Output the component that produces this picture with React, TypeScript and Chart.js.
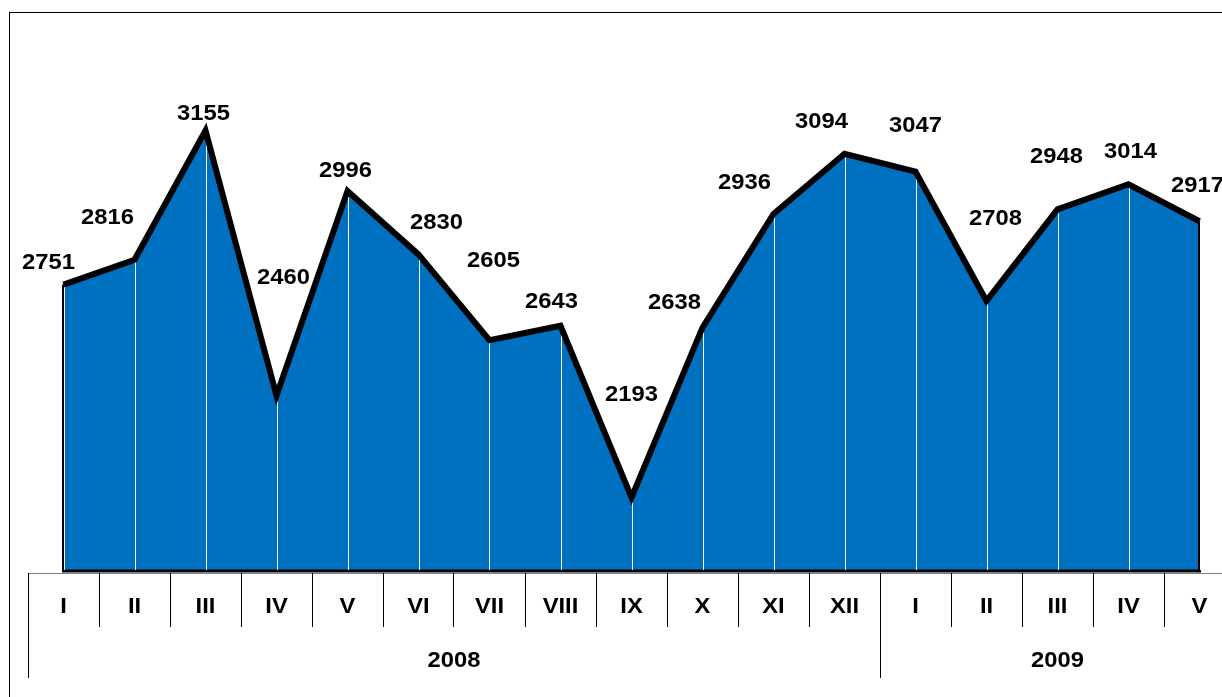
import React, { useEffect, useRef } from "react";
import { Chart, registerables } from "chart.js";

Chart.register(...registerables);

const months = ["I", "II", "III", "IV", "V", "VI", "VII", "VIII", "IX", "X", "XI", "XII", "I", "II", "III", "IV", "V"];
const values = [2751, 2816, 3155, 2460, 2996, 2830, 2605, 2643, 2193, 2638, 2936, 3094, 3047, 2708, 2948, 3014, 2917];
const years = ["2008", "2009"];
const yearSpans = [12, 5];
// label placement offsets (dx, dy) relative to each point, px
const labelOffsets: [number, number][] = [
  [-15, -22], [-27, -42], [-2, -17], [7, -118], [-2, -20], [18, -31], [4, -79], [-9, -24], [0, -102],
  [-28, -25], [-29, -31], [-23, -32], [0, -46], [9, -82], [-1, -52], [2, -32], [-2, -35],
];

const FONT = "'Liberation Sans', Arial, sans-serif";
const BLUE = "#0070C0";

function wideText(ctx: any, text: string, x: number, y: number) {
  ctx.save();
  ctx.translate(x, y);
  ctx.scale(1.08, 1);
  ctx.fillText(text, 0, 0);
  ctx.restore();
}

const framePlugin = {
  id: "framePlugin",
  beforeDatasetsDraw(chart: any) {
    const ctx = chart.ctx;
    const area = chart.chartArea;
    ctx.save();
    ctx.strokeStyle = "#000";
    ctx.lineWidth = 1;
    ctx.strokeRect(9.5, 12.5, 1400, 900);
    ctx.strokeStyle = "#808080";
    ctx.beginPath();
    ctx.moveTo(Math.floor(area.left), area.bottom + 2.5);
    ctx.lineTo(chart.width, area.bottom + 2.5);
    ctx.stroke();
    ctx.restore();
  },
  afterDatasetDraw(chart: any, args: any) {
    if (args.index !== 0) return;
    const ctx = chart.ctx;
    const area = chart.chartArea;
    const pts = args.meta.data;
    ctx.save();
    ctx.strokeStyle = "#000";
    ctx.lineWidth = 3;
    ctx.beginPath();
    ctx.moveTo(pts[0].x, pts[0].y);
    ctx.lineTo(pts[0].x, area.bottom);
    ctx.lineTo(pts[pts.length - 1].x, area.bottom);
    ctx.lineTo(pts[pts.length - 1].x, pts[pts.length - 1].y);
    ctx.stroke();
    ctx.strokeStyle = "#ffffff";
    ctx.lineWidth = 1;
    for (const p of pts) {
      const x = Math.round(p.x) + 0.5;
      ctx.beginPath();
      ctx.moveTo(x, p.y);
      ctx.lineTo(x, area.bottom - 1);
      ctx.stroke();
    }
    ctx.restore();
  },
  afterDraw(chart: any) {
    const ctx = chart.ctx;
    const area = chart.chartArea;
    const xs = chart.scales.x;
    const half = (xs.getPixelForValue(1) - xs.getPixelForValue(0)) / 2;
    const top = area.bottom + 2;
    ctx.save();
    ctx.strokeStyle = "#000";
    ctx.lineWidth = 1;
    for (let i = 0; i <= months.length; i++) {
      const b = xs.getPixelForValue(i) - half;
      const x = Math.floor(b) + 0.5;
      let isYearEdge = false;
      let acc = 0;
      for (const s of yearSpans) {
        if (acc === i) isYearEdge = true;
        acc += s;
      }
      if (acc === i) isYearEdge = true;
      ctx.beginPath();
      ctx.moveTo(x, top);
      ctx.lineTo(x, isYearEdge ? top + 105 : top + 54);
      ctx.stroke();
    }
    ctx.fillStyle = "#000";
    ctx.font = `bold 22px ${FONT}`;
    ctx.textAlign = "center";
    ctx.textBaseline = "middle";
    months.forEach((m, i) => {
      wideText(ctx, m, xs.getPixelForValue(i), top + 34);
    });
    let start = 0;
    years.forEach((y, k) => {
      const l = xs.getPixelForValue(start) - half;
      const r = xs.getPixelForValue(start + yearSpans[k] - 1) + half;
      wideText(ctx, y, (l + r) / 2, top + 88);
      start += yearSpans[k];
    });
    const meta = chart.getDatasetMeta(1);
    meta.data.forEach((p: any, i: number) => {
      const [dx, dy] = labelOffsets[i];
      wideText(ctx, String(values[i]), p.x + dx, p.y + dy);
    });
    ctx.restore();
  },
};

export default function App() {
  const ref = useRef<HTMLCanvasElement | null>(null);
  useEffect(() => {
    if (!ref.current) return;
    const chart = new Chart(ref.current, {
      type: "line",
      data: {
        labels: months.map((m, i) => `${m}-${i}`),
        datasets: [
          {
            data: values,
            borderWidth: 0,
            pointRadius: 0,
            fill: "start",
            backgroundColor: BLUE,
            order: 2,
          },
          {
            data: values,
            borderColor: "#000",
            borderWidth: 6,
            pointRadius: 0,
            fill: false,
            tension: 0,
            borderJoinStyle: "miter",
            order: 1,
          },
        ],
      },
      options: {
        animation: false,
        responsive: false,
        maintainAspectRatio: false,
        devicePixelRatio: 1,
        layout: { padding: { left: 28, right: 25, top: 37, bottom: 149 } },
        plugins: { legend: { display: false }, tooltip: { enabled: false }, title: { display: false } },
        scales: {
          x: { type: "category", offset: true, display: false },
          y: { min: 2000, max: 3400, display: false },
        },
      } as any,
      plugins: [framePlugin],
    });
    return () => chart.destroy();
  }, []);
  return (
    <div style={{ position: "absolute", left: 0, top: 0, width: 1222, height: 697, overflow: "hidden", background: "#fff" }}>
      <canvas ref={ref} width={1260} height={720} style={{ width: 1260, height: 720, display: "block" }} />
    </div>
  );
}
